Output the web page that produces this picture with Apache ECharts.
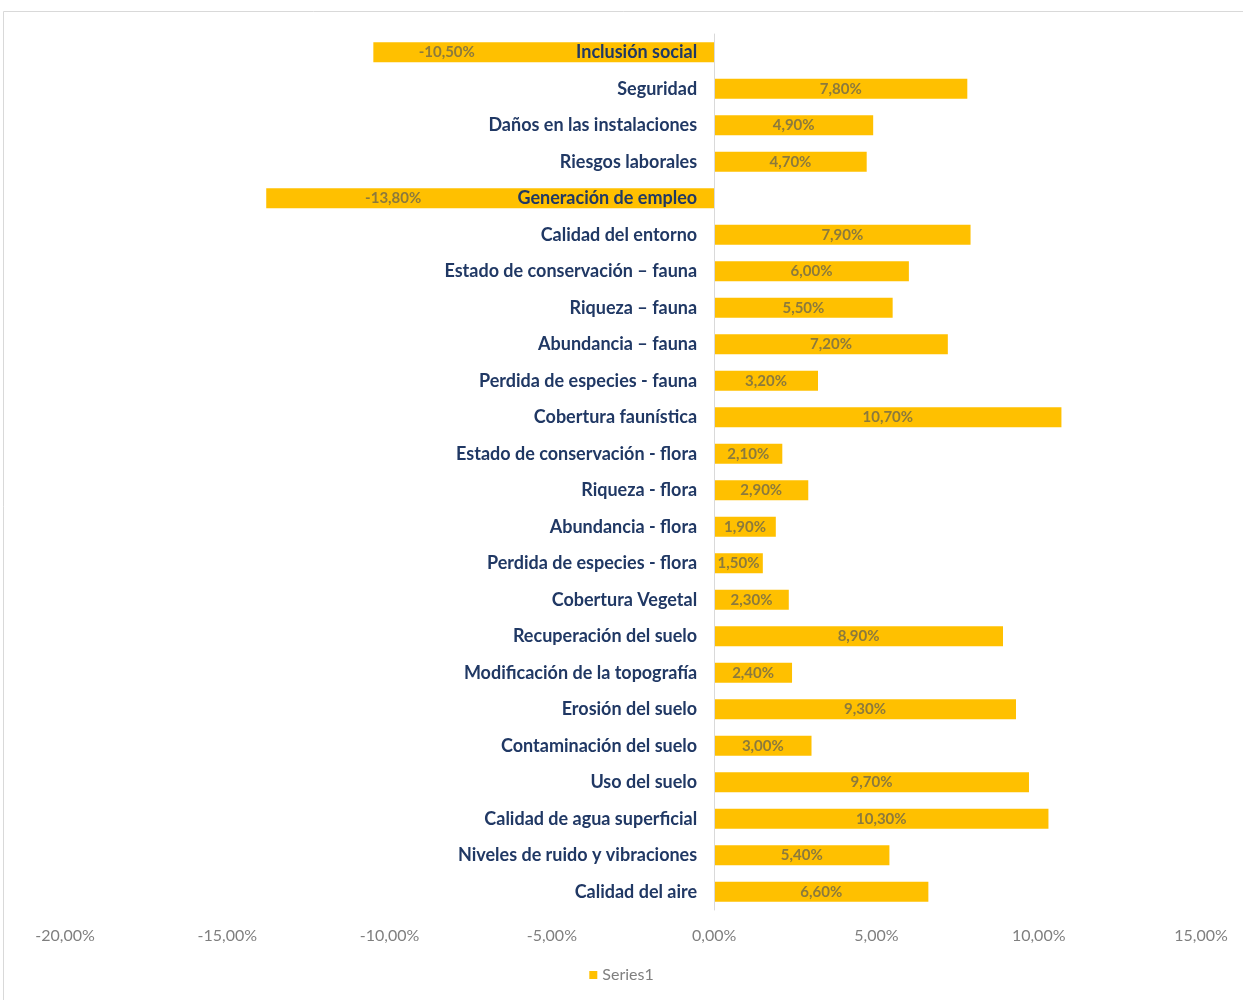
<!DOCTYPE html>
<html>
<head>
<meta charset="utf-8">
<script src="https://cdn.jsdelivr.net/npm/echarts@6/dist/echarts.min.js"></script>
<style>html,body{margin:0;padding:0;background:#fff}#c{width:1243px;height:1000px}</style>
</head>
<body>
<div id="c"></div>
<script>
const categories = [
  "Inclusión social","Seguridad","Daños en las instalaciones","Riesgos laborales",
  "Generación de empleo","Calidad del entorno","Estado de conservación – fauna",
  "Riqueza – fauna","Abundancia – fauna","Perdida de especies - fauna",
  "Cobertura faunística","Estado de conservación - flora","Riqueza - flora",
  "Abundancia - flora","Perdida de especies - flora","Cobertura Vegetal",
  "Recuperación del suelo","Modificación de la topografía","Erosión del suelo",
  "Contaminación del suelo","Uso del suelo","Calidad de agua superficial",
  "Niveles de ruido y vibraciones","Calidad del aire"
];
const series1 = [
  -10.5, 7.8, 4.9, 4.7, -13.8, 7.9, 6.0, 5.5, 7.2, 3.2, 10.7, 2.1, 2.9, 1.9, 1.5, 2.3,
  8.9, 2.4, 9.3, 3.0, 9.7, 10.3, 5.4, 6.6
];
const xTicks = { min: -20, max: 15, interval: 5 };

function pct(v){ return v.toFixed(2).replace('.', ',') + '%'; }

const W = 1243, GL = 65, GR = 42;
const gridWidth = W - GL - GR;
const zeroOffset = (0 - xTicks.min) / (xTicks.max - xTicks.min) * gridWidth;

const chart = echarts.init(document.getElementById('c'));
chart.setOption({
  animation: false,
  backgroundColor: '#fff',
  graphic: [{
    type: 'rect', shape: { x: 3.5, y: 11.5, width: 1260, height: 1010 },
    style: { fill: 'none', stroke: '#d9d9d9', lineWidth: 1 }, silent: true, z: -1
  }],
  grid: { left: GL, right: GR, top: 34, bottom: 90, containLabel: false, outerBoundsMode: 'none' },
  legend: {
    bottom: 12, left: 'center', itemWidth: 8, itemHeight: 8, icon: 'rect', itemGap: 6,
    textStyle: { color: '#7f7f7f', fontSize: 16, fontFamily: 'Lato' },
    data: ['Series1']
  },
  xAxis: {
    type: 'value', min: xTicks.min, max: xTicks.max, interval: xTicks.interval,
    splitLine: { show: false }, axisLine: { show: false }, axisTick: { show: false },
    axisLabel: { color: '#7f7f7f', fontSize: 16, fontFamily: 'Lato', margin: 18,
      formatter: v => pct(v) }
  },
  yAxis: {
    type: 'category', data: categories, inverse: true, z: 10,
    axisLine: { onZero: true, lineStyle: { color: '#d9d9d9', width: 1 } },
    axisTick: { show: false },
    axisLabel: { color: '#203864', fontSize: 18, fontWeight: 'bold', fontFamily: 'Lato',
      margin: -(zeroOffset - 17) }
  },
  series: [{
    name: 'Series1', type: 'bar', barWidth: '55%', z: 2,
    itemStyle: { color: '#FFC000' },
    label: {
      show: true, position: 'inside', color: '#8c7a3c', fontSize: 15, fontWeight: 'bold', fontFamily: 'Lato',
      formatter: p => pct(p.value)
    },
    data: series1.map(v => v < 0 ? { value: v, label: { offset: [-97, 0] } } : v)
  }]
});
</script>
</body>
</html>
